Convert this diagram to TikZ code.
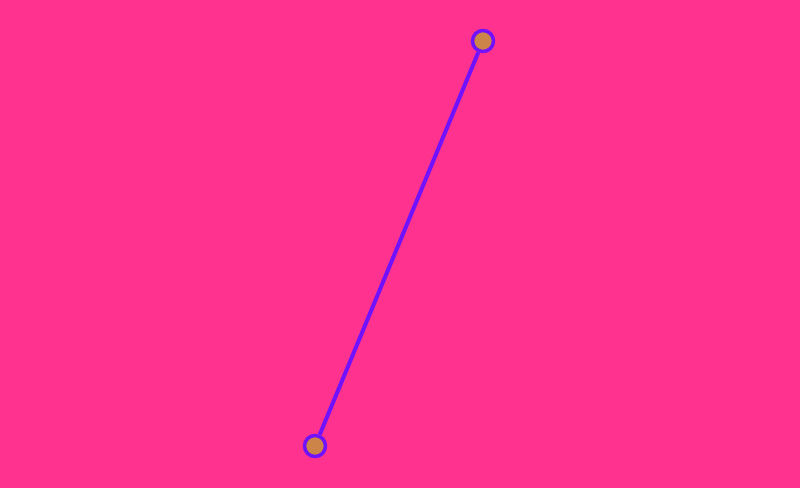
\documentclass[tikz,border=0pt]{standalone}
\usepackage{tikz}
\definecolor{bgpink}{HTML}{FF338F}
\definecolor{linkviolet}{HTML}{7011FF}
\definecolor{knobfill}{HTML}{CC8448}

\begin{document}
\begin{tikzpicture}[
  x=1pt, y=1pt,
  knob/.style={circle, draw=linkviolet, line width=3.5pt, fill=knobfill, minimum size=21pt, inner sep=0pt},
  link/.style={draw=linkviolet, line width=4pt}
]
  \fill[bgpink] (0,0) rectangle (800,488);
  \useasboundingbox (0,0) rectangle (800,488);
  \node[knob] (top) at (483,447) {};
  \node[knob] (bottom) at (315,42) {};
  \draw[link] (bottom) -- (top);
\end{tikzpicture}
\end{document}
